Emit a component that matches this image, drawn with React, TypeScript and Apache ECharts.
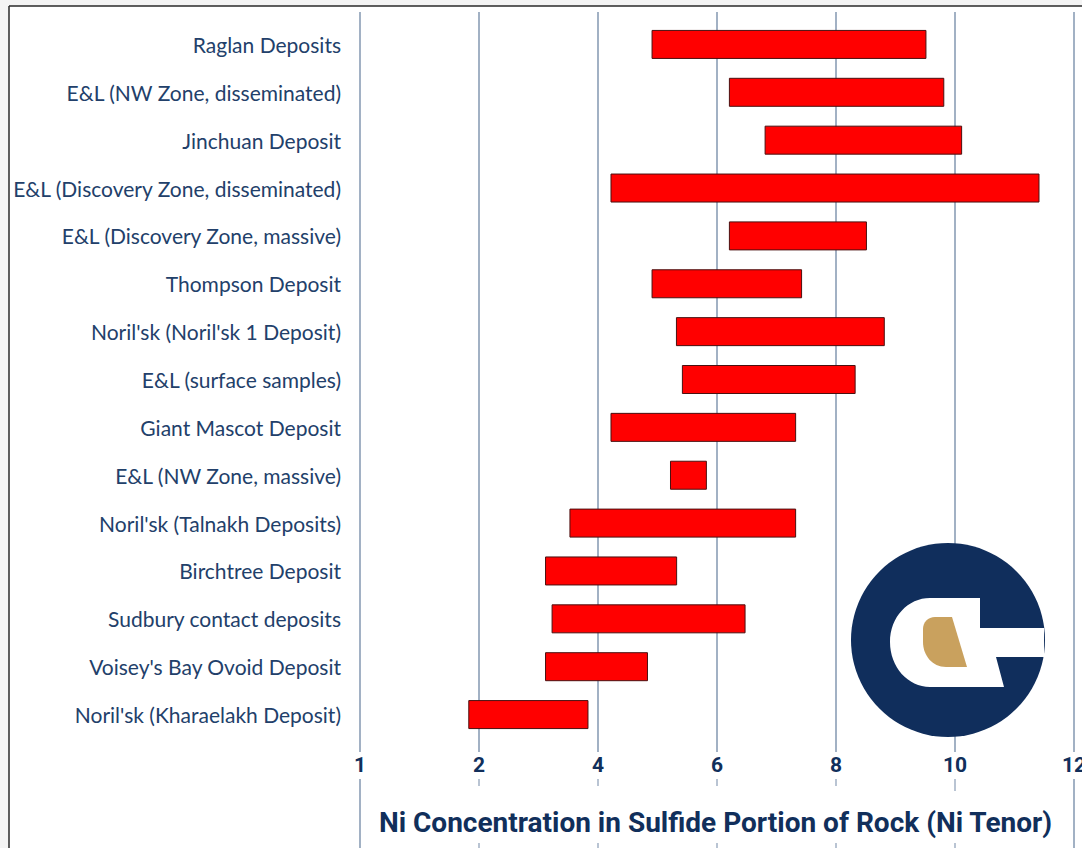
import React, { useEffect, useRef } from "react";
import * as echarts from "echarts";

const categories = [
  "Raglan Deposits",
  "E&L (NW Zone, disseminated)",
  "Jinchuan Deposit",
  "E&L (Discovery Zone, disseminated)",
  "E&L (Discovery Zone, massive)",
  "Thompson Deposit",
  "Noril'sk (Noril'sk 1 Deposit)",
  "E&L (surface samples)",
  "Giant Mascot Deposit",
  "E&L (NW Zone, massive)",
  "Noril'sk (Talnakh Deposits)",
  "Birchtree Deposit",
  "Sudbury contact deposits",
  "Voisey's Bay Ovoid Deposit",
  "Noril'sk (Kharaelakh Deposit)",
];
const rangeStart = [4.9, 6.2, 6.8, 4.21, 6.2, 4.9, 5.31, 5.41, 4.21, 5.21, 3.52, 3.11, 3.22, 3.11, 1.82];
const rangeEnd = [9.52, 9.82, 10.12, 11.42, 8.52, 7.43, 8.82, 8.33, 7.33, 5.83, 7.33, 5.33, 6.48, 4.84, 3.84];
const tickValues = [0, 2, 4, 6, 8, 10, 12];
const tickLabels = ["1", "2", "4", "6", "8", "10", "12"];
const axisTitle = "Ni Concentration in Sulfide Portion of Rock (Ni Tenor)";

const NAVY = "#112f5b";
const LABEL = "#22406a";
const GRID = "#a2b1c4";

const WHITE_D =
  "M 930 598 L 980 598 L 980 628 L 1044 628 L 1044 657 L 996 657 L 1004 687 L 930 687 C 908 687 890 667 890 642 C 890 617 908 598 930 598 Z";
const TAN_D =
  "M 935 617 L 952 617 L 967 667 L 946 667 C 932 667 923 655 923 642 L 923 629 C 923 622 928 617 935 617 Z";

echarts.graphic.registerShape("logoWhite", echarts.graphic.extendPath(WHITE_D, {}));
echarts.graphic.registerShape("logoTan", echarts.graphic.extendPath(TAN_D, {}));

export default function App() {
  const ref = useRef<HTMLDivElement>(null);
  useEffect(() => {
    if (!ref.current) return;
    const chart = echarts.init(ref.current, null, { renderer: "svg" });
    const lengths = rangeEnd.map((e, i) => +(e - rangeStart[i]).toFixed(2));
    chart.setOption({
      animation: false,
      backgroundColor: "#f4f4f4",
      grid: { left: 360, right: 8, top: 20.5, height: 718, outerBoundsMode: "none", containLabel: false },
      xAxis: {
        type: "value",
        min: 0,
        max: 12,
        interval: 2,
        axisLine: { show: false },
        axisTick: { show: false },
        splitLine: { show: false },
        axisLabel: {
          margin: 16,
          color: NAVY,
          fontFamily: "Roboto",
          fontWeight: "bold",
          fontSize: 21,
          hideOverlap: false,
          formatter: (v: number) => {
            const i = tickValues.indexOf(v);
            return i >= 0 ? tickLabels[i] : "";
          },
        },
      },
      yAxis: {
        type: "category",
        data: categories,
        inverse: true,
        axisLine: { show: false },
        axisTick: { show: false },
        splitLine: { show: false },
        axisLabel: {
          margin: 19,
          color: LABEL,
          fontFamily: "Lato",
          fontSize: 21,
        },
      },
      series: [
        {
          name: "start",
          type: "bar",
          stack: "r",
          data: rangeStart,
          barWidth: 29,
          itemStyle: { color: "transparent" },
          silent: true,
          z: 2,
        },
        {
          name: "range",
          type: "bar",
          stack: "r",
          data: lengths,
          barWidth: 29,
          itemStyle: { color: "#ff0000", borderColor: "#4a1010", borderWidth: 1 },
          z: 2,
        },
      ],
    });

    const xs = tickValues.map((v) => chart.convertToPixel({ xAxisIndex: 0 }, v) as number);
    const elements: any[] = [];
    elements.push({
      type: "rect",
      z: -10,
      shape: { x: 9, y: 6, width: 1100, height: 900 },
      style: { fill: "#ffffff" },
      silent: true,
    });
    elements.push({
      type: "line",
      z: 0,
      shape: { x1: 9, y1: 6, x2: 1082, y2: 6 },
      style: { stroke: "#2a2a2a", lineWidth: 1.5 },
      silent: true,
    });
    elements.push({
      type: "line",
      z: 0,
      shape: { x1: 9, y1: 6, x2: 9, y2: 848 },
      style: { stroke: "#2a2a2a", lineWidth: 1.5 },
      silent: true,
    });
    xs.forEach((x, i) => {
      elements.push({
        type: "line",
        z: 1,
        shape: { x1: x, y1: 12, x2: x, y2: 752 },
        style: { stroke: GRID, lineWidth: 2 },
        silent: true,
      });
      const edge = i === 0 || i === xs.length - 1;
      if (edge) {
        elements.push({
          type: "line",
          z: 1,
          shape: { x1: x, y1: 779, x2: x, y2: 848 },
          style: { stroke: GRID, lineWidth: 2 },
          silent: true,
        });
      } else {
        elements.push({
          type: "line",
          z: 1,
          shape: { x1: x, y1: 779, x2: x, y2: i === 5 ? 791 : 786 },
          style: { stroke: GRID, lineWidth: 1.5 },
          silent: true,
        });
        elements.push({
          type: "line",
          z: 1,
          shape: { x1: x, y1: 843, x2: x, y2: 848 },
          style: { stroke: GRID, lineWidth: 1.5 },
          silent: true,
        });
      }
    });
    elements.push({
      type: "circle",
      z: 10,
      shape: { cx: 948, cy: 640, r: 97 },
      style: { fill: "#102e5c" },
      silent: true,
    });
    elements.push({ type: "logoWhite", z: 11, x: 0, y: 0, style: { fill: "#ffffff" }, silent: true });
    elements.push({ type: "logoTan", z: 12, x: 0, y: 0, style: { fill: "#c9a15e" }, silent: true });
    elements.push({
      type: "text",
      z: 10,
      x: 715.5,
      y: 822,
      style: {
        text: axisTitle,
        fill: NAVY,
        fontFamily: "Roboto",
        fontWeight: "bold",
        fontSize: 28,
        align: "center",
        verticalAlign: "middle",
      },
      silent: true,
    });
    chart.setOption({ graphic: { elements } });
    return () => chart.dispose();
  }, []);
  return (
    <div
      ref={ref}
      style={{ position: "absolute", left: 0, top: 0, width: 1082, height: 848 }}
    />
  );
}
